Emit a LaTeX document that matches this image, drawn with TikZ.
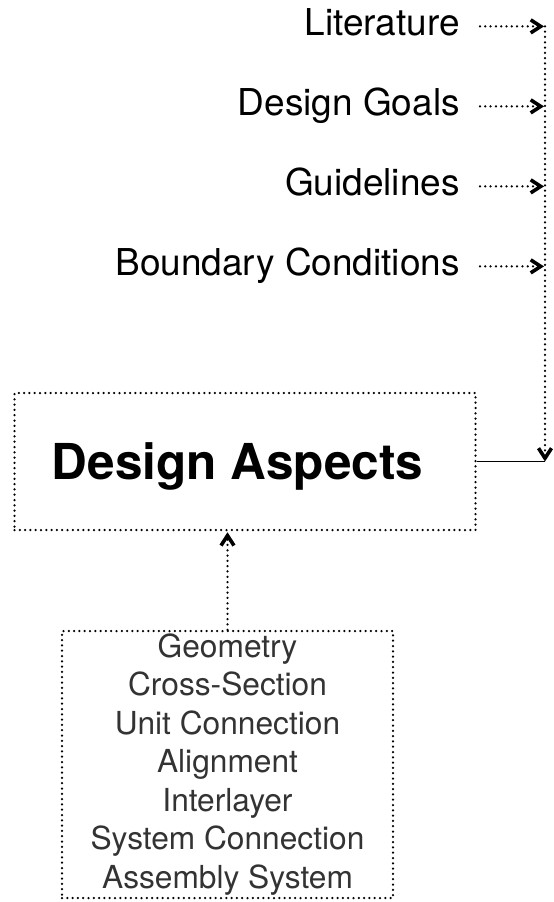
\documentclass[tikz,border=0pt]{standalone}
\usepackage{fontspec}
\setmainfont{TeX Gyre Heros}
\usetikzlibrary{arrows.meta,positioning}

\begin{document}
\begin{tikzpicture}
	[x=1pt, y=-1pt, inner sep=0pt,
	source/.style	= {anchor=base east, font=\fontsize{37}{40}\selectfont},
	aspects/.style	= {rectangle, draw, dotline, minimum width=461pt, minimum height=137pt},
	title/.style	= {anchor=base, font=\bfseries\fontsize{49.5}{54}\selectfont},
	items/.style	= {rectangle, draw, dotline, align=center, minimum width=331pt, minimum height=267pt, text=black!80, font=\fontsize{31.7}{38.5}\selectfont},
	dotline/.style	= {line width=2.5pt, line cap=round, dash pattern=on 0pt off 5.3pt},
	barb/.style	= {-{Straight Barb[length=10pt, width=13pt, line width=3.6pt]}},
	feed/.style	= {dotline, barb, shorten >= 1pt}]
	
	\useasboundingbox (0, 0) rectangle (554, 902);
	
	\node at (460, 35)		[source]	(lit)	{Literature};
	\node at (460, 115)		[source]	(goals)	{Design Goals};
	\node at (460, 195)		[source]	(guide)	{Guidelines};
	\node at (460, 275)		[source]	(bound)	{Boundary Conditions};
	
	\node at (245, 461.5)	[aspects]	(asp)	{};
	\node at (237.5, 479.5)	[title]		(aspname)	{Design Aspects};
	\node at (227.5, 764.5)	[items]		(list)	{Geometry\\Cross-Section\\Unit Connection\\Alignment\\Interlayer\\System Connection\\Assembly System};
	
	\coordinate (rail) at (545, 0);
	\coordinate (top) at ([yshift=6pt]lit.mid east -| rail);
	\coordinate (join) at (asp.east -| rail);
	
	\draw [feed] ([xshift=20pt, yshift=6pt]lit.mid east) -- ([yshift=6pt]lit.mid east -| rail);
	\draw [feed] ([xshift=20pt, yshift=6pt]goals.mid east) -- ([yshift=6pt]goals.mid east -| rail);
	\draw [feed] ([xshift=20pt, yshift=6pt]guide.mid east) -- ([yshift=6pt]guide.mid east -| rail);
	\draw [feed] ([xshift=20pt, yshift=6pt]bound.mid east) -- ([yshift=6pt]bound.mid east -| rail);
	
	\draw [dotline, barb] (top) -- (join);
	\draw [line width=1.8pt] (asp.east) -- (join);
	
	\draw [feed] (list.north) -- (list.north |- asp.south);
	
	\end{tikzpicture}
\end{document}
